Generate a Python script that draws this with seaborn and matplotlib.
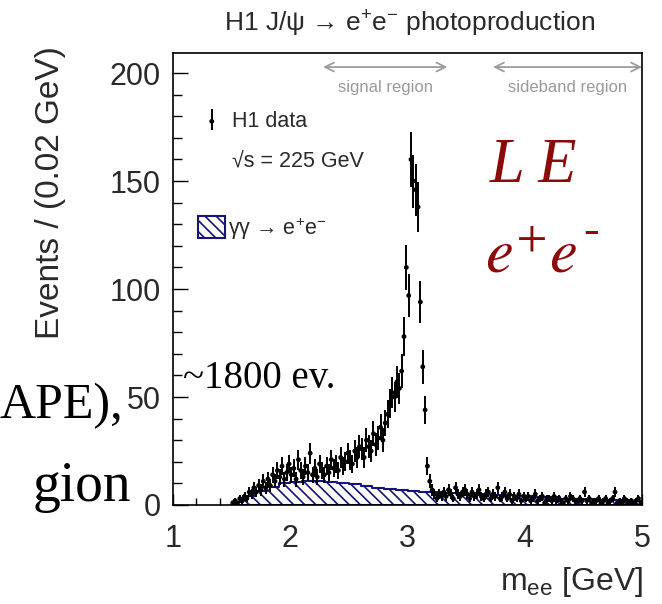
import numpy as np
import pandas as pd
import matplotlib
matplotlib.use("Agg")
import matplotlib.pyplot as plt
from matplotlib.ticker import MultipleLocator
from matplotlib.legend_handler import HandlerTuple
from matplotlib.patches import Patch
import seaborn as sns

# ---------------- data ----------------
bin_start = 1.50
bin_width = 0.02
h1_counts = [
    1, 2, 1, 3, 2,        # 1.5
    4, 3, 6, 5, 8,        # 1.6
    6, 9, 7, 11, 8,       # 1.7
    12, 9, 14, 11, 16,    # 1.8
    13, 18, 12, 15, 19,   # 1.9
    14, 17, 12, 21, 16,   # 2.0
    13, 18, 15, 24, 14,   # 2.1
    17, 13, 19, 16, 14,   # 2.2
    18, 15, 21, 17, 19,   # 2.3
    16, 22, 18, 20, 24,   # 2.4
    21, 19, 25, 22, 27,   # 2.5
    26, 22, 30, 27, 25,   # 2.6
    33, 28, 31, 36, 30,   # 2.7
    38, 42, 47, 52, 50,   # 2.8
    57, 54, 62, 78, 110,  # 2.9
    97, 160, 150, 146, 138,  # 3.0
    94, 64, 44, 18, 11,   # 3.1
    7, 5, 3, 5, 4,        # 3.2
    6, 4, 7, 5, 3,        # 3.3
    8, 5, 4, 6, 7,        # 3.4
    5, 3, 6, 4, 5,        # 3.5
    7, 4, 3, 5, 6,        # 3.6
    3, 5, 4, 8, 3,        # 3.7
    4, 6, 3, 5, 2,        # 3.8
    4, 3, 5, 2, 4,        # 3.9
    3, 4, 2, 3, 5,        # 4.0
    2, 3, 4, 1, 3,        # 4.1
    3, 2, 4, 2, 3,        # 4.2
    2, 1, 3, 2, 4,        # 4.3
    3, 2, 1, 3, 2,        # 4.4
    6, 2, 3, 1, 2,        # 4.5
    2, 3, 1, 2, 3,        # 4.6
    1, 2, 3, 6, 1,        # 4.7
    2, 1, 3, 2, 1,        # 4.8
    2, 1, 2, 3, 1,        # 4.9
]
bg_edges = [1.5, 1.6, 1.7, 1.8, 1.9, 2.0, 2.1, 2.2, 2.3, 2.4, 2.5, 2.6, 2.7,
            2.8, 2.9, 3.0, 3.1, 3.2, 3.3, 3.4, 3.5, 3.6, 3.7, 3.8, 3.9, 4.0,
            4.1, 4.2, 4.3, 4.4, 4.5, 4.6, 4.7, 4.8, 4.9, 5.0]
bg_counts = [1.5, 4, 6.5, 8.5, 10, 10.5, 11, 11, 10.5, 10, 9.5, 9, 8, 7.5,
             7, 6.5, 6, 6, 5.5, 5.5, 5, 5, 4.5, 4.5, 4, 4, 3.5, 3.5, 3, 3,
             3, 2.5, 2.5, 2.5, 2]
x_ticks = [1, 2, 3, 4, 5]
y_ticks = [0, 50, 100, 150, 200]
region_names = ["signal region", "sideband region"]
region_lo = [2.28, 3.73]
region_hi = [3.34, 5.0]
region_y = 202.8

# ---------------- style ----------------
sns.set_theme(style="ticks")
plt.rcParams["font.family"] = ["Liberation Sans", "DejaVu Sans"]
plt.rcParams["mathtext.fontset"] = "custom"
plt.rcParams["mathtext.rm"] = "Liberation Sans"
plt.rcParams["mathtext.it"] = "Liberation Sans:italic"
plt.rcParams["mathtext.bf"] = "Liberation Sans:bold"
plt.rcParams["mathtext.sf"] = "Liberation Sans"
plt.rcParams["hatch.color"] = "#1a1a80"
plt.rcParams["hatch.linewidth"] = 1.2

W, H = 662, 604
fx = lambda p: p / W
fy = lambda p: 1 - p / H

fig = plt.figure(figsize=(W / 100, H / 100), dpi=100, facecolor="white")
ax = fig.add_axes([fx(173), fy(505), (642 - 173) / W, (505 - 53) / H])
ax.set_facecolor("white")

# background histogram (gamma gamma -> e+e-)
edges = np.array(bg_edges)
bg_centers = 0.5 * (edges[:-1] + edges[1:])
sns.histplot(x=bg_centers, weights=bg_counts, bins=bg_edges, element="step",
             fill=True, facecolor="white", edgecolor="#14147a",
             hatch="\\\\\\", linewidth=1.5, alpha=1, ax=ax)
bg_artist = ax.collections[0]

# data points
centers = bin_start + bin_width * (np.arange(len(h1_counts)) + 0.5)
df = pd.DataFrame({"m": centers, "n": np.array(h1_counts, dtype=float)})
err = ax.errorbar(df["m"], df["n"], yerr=np.sqrt(df["n"]), fmt="none",
                  ecolor="black", elinewidth=1.4, capsize=0, zorder=3)
sns.scatterplot(data=df, x="m", y="n", color="black", s=12, edgecolor="none",
                ax=ax, zorder=4, legend=False)
pts = ax.collections[-1]

ax.set_xlim(1, 5)
ax.set_ylim(0, 209.3)
ax.set_xticks(x_ticks)
ax.set_yticks(y_ticks)
ax.xaxis.set_minor_locator(MultipleLocator(0.2))
ax.yaxis.set_minor_locator(MultipleLocator(10))
ax.tick_params(axis="both", which="both", direction="in", colors="black",
               labelcolor="#2a2a2a", width=1.0)
ax.tick_params(axis="y", which="major", length=11, pad=9, labelsize=22)
ax.tick_params(axis="y", which="minor", length=6.5)
ax.tick_params(axis="x", which="major", length=8, pad=14, labelsize=22)
ax.tick_params(axis="x", which="minor", length=5)
for s in ax.spines.values():
    s.set_visible(True)
    s.set_color("black")
    s.set_linewidth(1.2)
ax.set_xlabel("")
ax.set_ylabel("")

# region arrows
for name, lo, hi in zip(region_names, region_lo, region_hi):
    ax.annotate("", xy=(hi, region_y), xytext=(lo, region_y),
                arrowprops=dict(arrowstyle="<->", color="#9c9c9c", lw=1.3,
                                mutation_scale=16, shrinkA=0, shrinkB=0),
                annotation_clip=False)
    ax.text((lo + hi) / 2, region_y - 9.3, name, ha="center", va="center",
            fontsize=12, color="#9a9a9a")

# legends
leg1 = ax.legend(handles=[(err, pts), Patch(facecolor="none", edgecolor="none")],
                 labels=["H1 data", "\u221as = 225 GeV"],
                 handler_map={tuple: HandlerTuple(ndivide=1)},
                 loc="upper left", bbox_to_anchor=(fx(201), fy(111)),
                 bbox_transform=fig.transFigure, frameon=False, fontsize=15.5,
                 borderpad=0, borderaxespad=0, handlelength=1.0,
                 handletextpad=0.45, labelspacing=0.9, scatterpoints=1)
for t in leg1.get_texts():
    t.set_color("#2a2a2a")
ax.add_artist(leg1)
leg2 = ax.legend(handles=[bg_artist], labels=["\u03b3\u03b3 \u2192 e$^{+}$e$^{-}$"],
                 loc="upper left", bbox_to_anchor=(fx(198), fy(215)),
                 bbox_transform=fig.transFigure, frameon=False, fontsize=15.5,
                 borderpad=0, borderaxespad=0, handlelength=1.26,
                 handleheight=1.16, handletextpad=0.12)
for t in leg2.get_texts():
    t.set_color("#2a2a2a")

# titles and axis labels
fig.text(fx(410), fy(24), "H1 J/\u03c8 \u2192 e$^{+}$e$^{-}$ photoproduction",
         ha="center", va="center", fontsize=19, color="#2a2a2a")
fig.text(fx(51), fy(193), "Events / (0.02 GeV)", rotation=90, ha="center",
         va="center", fontsize=24, color="#2a2a2a")
fig.text(fx(643), fy(582), "m$_{\\mathrm{ee}}$ [GeV]", ha="right", va="center",
         fontsize=23, color="#2a2a2a")

# slide overlay text
serif = ["Liberation Serif", "DejaVu Serif"]
fig.text(fx(183), fy(388), "~1800 ev.", ha="left", va="baseline",
         fontsize=28, family=serif, color="black")
fig.text(fx(123), fy(418), "APE),", ha="right", va="baseline",
         fontsize=36, family=serif, color="black")
fig.text(fx(131), fy(501), "gion", ha="right", va="baseline",
         fontsize=40, family=serif, color="black")
red = "#8c0a0a"
fig.text(fx(490), fy(182), "L E", ha="left", va="baseline", fontsize=45,
         family=serif, style="italic", color=red)
fig.text(fx(485), fy(272), r"$e^{+}e$", ha="left", va="baseline",
         fontsize=45, color=red, math_fontfamily="stix")
fig.text(fx(583), fy(243), "-", ha="left", va="baseline", fontsize=34,
         family=serif, color=red)

fig.savefig("out.png", dpi=100, facecolor="white")
